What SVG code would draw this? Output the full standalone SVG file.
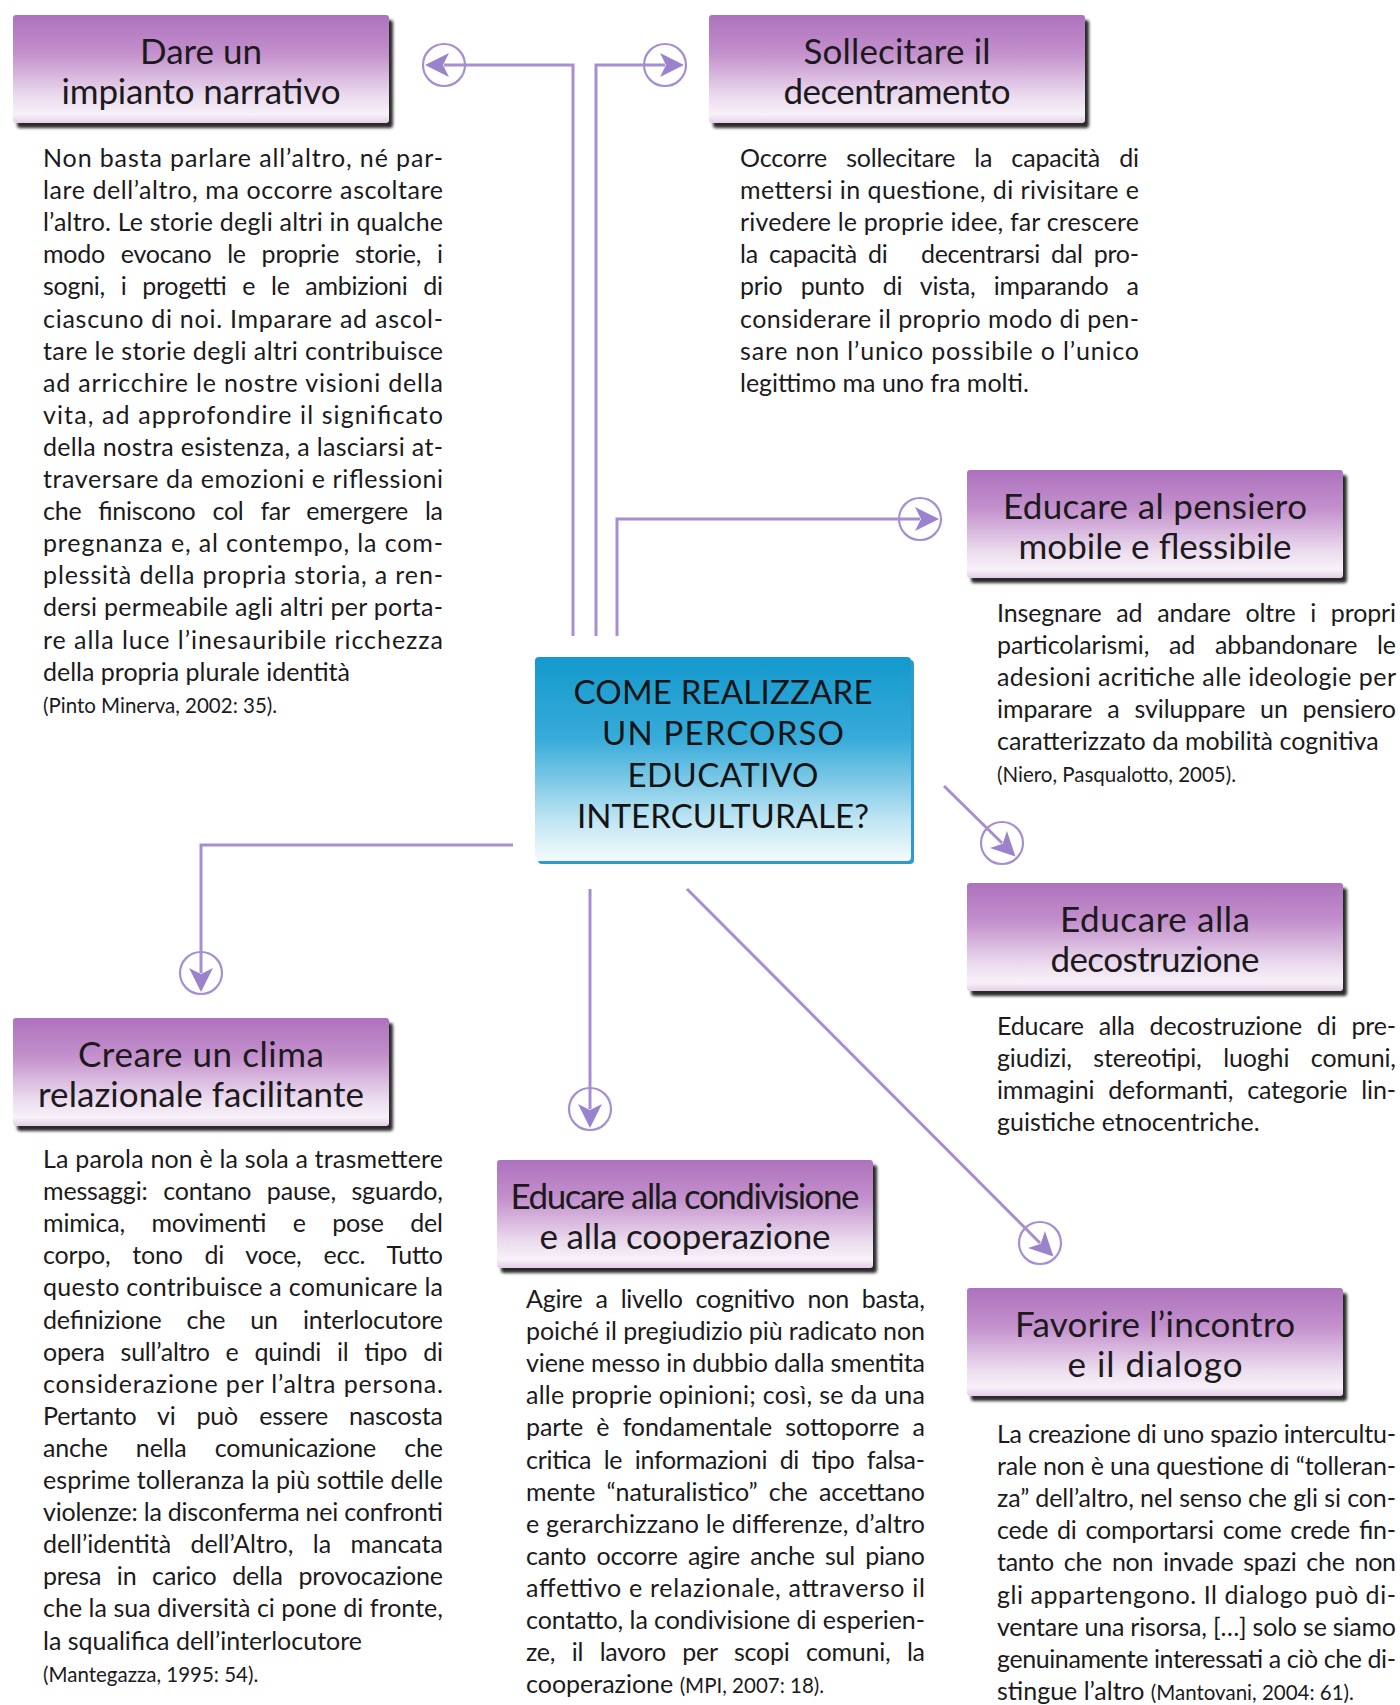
<svg xmlns="http://www.w3.org/2000/svg" width="1400" height="1705" viewBox="0 0 1400 1705">
<style>
  text { font-family: "Lato", "Liberation Sans", sans-serif; fill: #1c1a1c; }
  .hdr { font-size: 35px; text-anchor: middle; }
  .ttl { font-size: 33px; text-anchor: middle; fill: #141414; }
  .body { font-size: 25px; }
  .cite { font-size: 20.5px; }
  .wire { fill: none; stroke: #a68fd1; stroke-width: 3; }
</style>
<defs>
  <linearGradient id="cardFill" x1="0" y1="0" x2="0" y2="1">
    <stop offset="0" stop-color="#ad72bd"/>
    <stop offset="0.35" stop-color="#c38fcc"/>
    <stop offset="0.75" stop-color="#ebdbee"/>
    <stop offset="0.92" stop-color="#f8f1f9"/>
    <stop offset="1" stop-color="#e2cfe6"/>
  </linearGradient>
  <linearGradient id="coreFill" x1="0" y1="0" x2="0" y2="1">
    <stop offset="0" stop-color="#1499cd"/>
    <stop offset="0.4" stop-color="#37abd9"/>
    <stop offset="0.8" stop-color="#bfe5f3"/>
    <stop offset="1" stop-color="#f4fbfd"/>
  </linearGradient>
  <filter id="soft" x="-5%" y="-10%" width="110%" height="130%">
    <feGaussianBlur stdDeviation="1.6"/>
  </filter>
  <!-- purple title card with dark drop shadow -->
  <g id="card">
    <rect x="4" y="5" width="376" height="108" rx="3" fill="#2b2b2b" filter="url(#soft)"/>
    <rect x="0" y="0" width="376" height="108" rx="3" fill="url(#cardFill)"/>
  </g>
  <!-- circled arrowhead, pointing along +x -->
  <g id="tip">
    <circle r="21" fill="none" stroke="#a68fd1" stroke-width="2.2"/>
    <path d="M19,0 L-5,-12 L1,0 L-5,12 Z" fill="#9b82cc"/>
  </g>
</defs>

<rect width="1400" height="1705" fill="#ffffff"/>

<!-- connectors -->
<g id="connectors">
  <path class="wire" d="M573,636 V65 H444"/>
  <path class="wire" d="M596,636 V65 H665"/>
  <path class="wire" d="M617,636 V519 H920"/>
  <path class="wire" d="M513,845 H201 V973"/>
  <path class="wire" d="M590,889 V1109"/>
  <path class="wire" d="M944,786 L1002,843"/>
  <path class="wire" d="M687,889 L1040,1243"/>
  <use href="#tip" transform="translate(444,65) rotate(180)"/>
  <use href="#tip" transform="translate(665,65)"/>
  <use href="#tip" transform="translate(920,519)"/>
  <use href="#tip" transform="translate(201,973) rotate(90)"/>
  <use href="#tip" transform="translate(590,1109) rotate(90)"/>
  <use href="#tip" transform="translate(1002,843) rotate(45)"/>
  <use href="#tip" transform="translate(1040,1243) rotate(45)"/>
</g>

<!-- central question -->
<g id="core">
  <rect x="538" y="660" width="376" height="204" rx="4" fill="#2d9ccc"/>
  <rect x="535" y="657" width="376" height="204" rx="4" fill="url(#coreFill)"/>
  <text class="ttl" x="723" y="704" textLength="299" lengthAdjust="spacing">COME REALIZZARE</text>
  <text class="ttl" x="723" y="745" textLength="242" lengthAdjust="spacing">UN PERCORSO</text>
  <text class="ttl" x="723" y="787" textLength="191" lengthAdjust="spacing">EDUCATIVO</text>
  <text class="ttl" x="723" y="828" textLength="292" lengthAdjust="spacing">INTERCULTURALE?</text>
</g>

<!-- Dare un impianto narrativo -->
<g id="narrativo">
  <use href="#card" x="13" y="15"/>
  <text class="hdr" x="201" y="64" textLength="122" lengthAdjust="spacing">Dare un</text>
  <text class="hdr" x="201" y="104" textLength="279" lengthAdjust="spacing">impianto narrativo</text>
  <text class="body" x="43" y="167" textLength="400" lengthAdjust="spacing">Non basta parlare all’altro, né par-</text>
  <text class="body" x="43" y="199" textLength="400" lengthAdjust="spacing">lare dell’altro, ma occorre ascoltare</text>
  <text class="body" x="43" y="231" textLength="400" lengthAdjust="spacing">l’altro. Le storie degli altri in qualche</text>
  <text class="body" x="43" y="263" textLength="400" lengthAdjust="spacing" style="word-spacing:9.6px">modo evocano le proprie storie, i</text>
  <text class="body" x="43" y="295" textLength="400" lengthAdjust="spacing" style="word-spacing:9.6px">sogni, i progetti e le ambizioni di</text>
  <text class="body" x="43" y="328" textLength="400" lengthAdjust="spacing">ciascuno di noi. Imparare ad ascol-</text>
  <text class="body" x="43" y="360" textLength="400" lengthAdjust="spacing">tare le storie degli altri contribuisce</text>
  <text class="body" x="43" y="392" textLength="400" lengthAdjust="spacing">ad arricchire le nostre visioni della</text>
  <text class="body" x="43" y="424" textLength="400" lengthAdjust="spacing">vita, ad approfondire il significato</text>
  <text class="body" x="43" y="456" textLength="400" lengthAdjust="spacing">della nostra esistenza, a lasciarsi at-</text>
  <text class="body" x="43" y="488" textLength="400" lengthAdjust="spacing">traversare da emozioni e riflessioni</text>
  <text class="body" x="43" y="520" textLength="400" lengthAdjust="spacing" style="word-spacing:10.7px">che finiscono col far emergere la</text>
  <text class="body" x="43" y="552" textLength="400" lengthAdjust="spacing">pregnanza e, al contempo, la com-</text>
  <text class="body" x="43" y="584" textLength="400" lengthAdjust="spacing">plessità della propria storia, a ren-</text>
  <text class="body" x="43" y="616" textLength="400" lengthAdjust="spacing">dersi permeabile agli altri per porta-</text>
  <text class="body" x="43" y="649" textLength="400" lengthAdjust="spacing">re alla luce l’inesauribile ricchezza</text>
  <text class="body" x="43" y="681">della propria plurale identità</text>
  <text class="cite" x="43" y="713">(Pinto Minerva, 2002: 35).</text>
</g>

<!-- Sollecitare il decentramento -->
<g id="decentramento">
  <use href="#card" x="709" y="15"/>
  <text class="hdr" x="897" y="64" textLength="187" lengthAdjust="spacing">Sollecitare il</text>
  <text class="hdr" x="897" y="104" textLength="227" lengthAdjust="spacing">decentramento</text>
  <text class="body" x="740" y="167" textLength="399" lengthAdjust="spacing" style="word-spacing:12.8px">Occorre sollecitare la capacità di</text>
  <text class="body" x="740" y="199" textLength="399" lengthAdjust="spacing">mettersi in questione, di rivisitare e</text>
  <text class="body" x="740" y="231" textLength="399" lengthAdjust="spacing">rivedere le proprie idee, far crescere</text>
  <text class="body" x="740" y="263" textLength="399" lengthAdjust="spacing" xml:space="preserve" style="word-spacing:5px">la capacità di   decentrarsi dal pro-</text>
  <text class="body" x="740" y="295" textLength="399" lengthAdjust="spacing" style="word-spacing:11.9px">prio punto di vista, imparando a</text>
  <text class="body" x="740" y="328" textLength="399" lengthAdjust="spacing">considerare il proprio modo di pen-</text>
  <text class="body" x="740" y="360" textLength="399" lengthAdjust="spacing">sare non l’unico possibile o l’unico</text>
  <text class="body" x="740" y="392">legittimo ma uno fra molti.</text>
</g>

<!-- Educare al pensiero mobile e flessibile -->
<g id="pensiero">
  <use href="#card" x="967" y="470"/>
  <text class="hdr" x="1155" y="519" textLength="304" lengthAdjust="spacing">Educare al pensiero</text>
  <text class="hdr" x="1155" y="559" textLength="273" lengthAdjust="spacing">mobile e flessibile</text>
  <text class="body" x="997" y="622" textLength="399" lengthAdjust="spacing" style="word-spacing:8.4px">Insegnare ad andare oltre i propri</text>
  <text class="body" x="997" y="654" textLength="399" lengthAdjust="spacing" style="word-spacing:13.3px">particolarismi, ad abbandonare le</text>
  <text class="body" x="997" y="686" textLength="399" lengthAdjust="spacing">adesioni acritiche alle ideologie per</text>
  <text class="body" x="997" y="718" textLength="399" lengthAdjust="spacing" style="word-spacing:8.5px">imparare a sviluppare un pensiero</text>
  <text class="body" x="997" y="750">caratterizzato da mobilità cognitiva</text>
  <text class="cite" x="997" y="782">(Niero, Pasqualotto, 2005).</text>
</g>

<!-- Educare alla decostruzione -->
<g id="decostruzione">
  <use href="#card" x="967" y="883"/>
  <text class="hdr" x="1155" y="932" textLength="190" lengthAdjust="spacing">Educare alla</text>
  <text class="hdr" x="1155" y="972" textLength="209" lengthAdjust="spacing">decostruzione</text>
  <text class="body" x="997" y="1035" textLength="399" lengthAdjust="spacing" style="word-spacing:8.6px">Educare alla decostruzione di pre-</text>
  <text class="body" x="997" y="1067" textLength="399" lengthAdjust="spacing" style="word-spacing:15.3px">giudizi, stereotipi, luoghi comuni,</text>
  <text class="body" x="997" y="1099" textLength="399" lengthAdjust="spacing" style="word-spacing:7.7px">immagini deformanti, categorie lin-</text>
  <text class="body" x="997" y="1131">guistiche etnocentriche.</text>
</g>

<!-- Creare un clima relazionale facilitante -->
<g id="clima">
  <use href="#card" x="13" y="1018"/>
  <text class="hdr" x="201" y="1067" textLength="246" lengthAdjust="spacing">Creare un clima</text>
  <text class="hdr" x="201" y="1107" textLength="326" lengthAdjust="spacing">relazionale facilitante</text>
  <text class="body" x="43" y="1168" textLength="400" lengthAdjust="spacing">La parola non è la sola a trasmettere</text>
  <text class="body" x="43" y="1200" textLength="400" lengthAdjust="spacing" style="word-spacing:9.3px">messaggi: contano pause, sguardo,</text>
  <text class="body" x="43" y="1232" textLength="400" lengthAdjust="spacing" style="word-spacing:20.3px">mimica, movimenti e pose del</text>
  <text class="body" x="43" y="1264" textLength="400" lengthAdjust="spacing" style="word-spacing:15.7px">corpo, tono di voce, ecc. Tutto</text>
  <text class="body" x="43" y="1296" textLength="400" lengthAdjust="spacing">questo contribuisce a comunicare la</text>
  <text class="body" x="43" y="1329" textLength="400" lengthAdjust="spacing" style="word-spacing:18.8px">definizione che un interlocutore</text>
  <text class="body" x="43" y="1361" textLength="400" lengthAdjust="spacing" style="word-spacing:9.7px">opera sull’altro e quindi il tipo di</text>
  <text class="body" x="43" y="1393" textLength="400" lengthAdjust="spacing">considerazione per l’altra persona.</text>
  <text class="body" x="43" y="1425" textLength="400" lengthAdjust="spacing" style="word-spacing:14.8px">Pertanto vi può essere nascosta</text>
  <text class="body" x="43" y="1457" textLength="400" lengthAdjust="spacing" style="word-spacing:21.9px">anche nella comunicazione che</text>
  <text class="body" x="43" y="1489" textLength="400" lengthAdjust="spacing">esprime tolleranza la più sottile delle</text>
  <text class="body" x="43" y="1521" textLength="400" lengthAdjust="spacing">violenze: la disconferma nei confronti</text>
  <text class="body" x="43" y="1553" textLength="400" lengthAdjust="spacing" style="word-spacing:13px">dell’identità dell’Altro, la mancata</text>
  <text class="body" x="43" y="1585" textLength="400" lengthAdjust="spacing" style="word-spacing:9.3px">presa in carico della provocazione</text>
  <text class="body" x="43" y="1617" textLength="400" lengthAdjust="spacing">che la sua diversità ci pone di fronte,</text>
  <text class="body" x="43" y="1650">la squalifica dell’interlocutore</text>
  <text class="cite" x="43" y="1682">(Mantegazza, 1995: 54).</text>
</g>

<!-- Educare alla condivisione e alla cooperazione -->
<g id="cooperazione">
  <use href="#card" x="497" y="1160"/>
  <text class="hdr" x="685" y="1209" textLength="349" lengthAdjust="spacing">Educare alla condivisione</text>
  <text class="hdr" x="685" y="1249" textLength="291" lengthAdjust="spacing">e alla cooperazione</text>
  <text class="body" x="526" y="1308" textLength="399" lengthAdjust="spacing" style="word-spacing:6.8px">Agire a livello cognitivo non basta,</text>
  <text class="body" x="526" y="1340" textLength="399" lengthAdjust="spacing">poiché il pregiudizio più radicato non</text>
  <text class="body" x="526" y="1372" textLength="399" lengthAdjust="spacing">viene messo in dubbio dalla smentita</text>
  <text class="body" x="526" y="1404" textLength="399" lengthAdjust="spacing">alle proprie opinioni; così, se da una</text>
  <text class="body" x="526" y="1436" textLength="399" lengthAdjust="spacing" style="word-spacing:7px">parte è fondamentale sottoporre a</text>
  <text class="body" x="526" y="1469" textLength="399" lengthAdjust="spacing" style="word-spacing:6.4px">critica le informazioni di tipo falsa-</text>
  <text class="body" x="526" y="1501" textLength="399" lengthAdjust="spacing" style="word-spacing:5px">mente “naturalistico” che accettano</text>
  <text class="body" x="526" y="1533" textLength="399" lengthAdjust="spacing">e gerarchizzano le differenze, d’altro</text>
  <text class="body" x="526" y="1565" textLength="399" lengthAdjust="spacing" style="word-spacing:4px">canto occorre agire anche sul piano</text>
  <text class="body" x="526" y="1597" textLength="399" lengthAdjust="spacing">affettivo e relazionale, attraverso il</text>
  <text class="body" x="526" y="1629" textLength="399" lengthAdjust="spacing">contatto, la condivisione di esperien-</text>
  <text class="body" x="526" y="1661" textLength="399" lengthAdjust="spacing" style="word-spacing:10.3px">ze, il lavoro per scopi comuni, la</text>
  <text class="body" x="526" y="1693">cooperazione <tspan class="cite">(MPI, 2007: 18).</tspan></text>
</g>

<!-- Favorire l'incontro e il dialogo -->
<g id="dialogo">
  <use href="#card" x="967" y="1288"/>
  <text class="hdr" x="1155" y="1337" textLength="280" lengthAdjust="spacing">Favorire l’incontro</text>
  <text class="hdr" x="1155" y="1377" textLength="175" lengthAdjust="spacing">e il dialogo</text>
  <text class="body" x="997" y="1443" textLength="399" lengthAdjust="spacing">La creazione di uno spazio intercultu-</text>
  <text class="body" x="997" y="1475" textLength="399" lengthAdjust="spacing">rale non è una questione di “tolleran-</text>
  <text class="body" x="997" y="1507" textLength="399" lengthAdjust="spacing">za” dell’altro, nel senso che gli si con-</text>
  <text class="body" x="997" y="1539" textLength="399" lengthAdjust="spacing" style="word-spacing:2.8px">cede di comportarsi come crede fin-</text>
  <text class="body" x="997" y="1571" textLength="399" lengthAdjust="spacing" style="word-spacing:3.7px">tanto che non invade spazi che non</text>
  <text class="body" x="997" y="1604" textLength="399" lengthAdjust="spacing">gli appartengono. Il dialogo può di-</text>
  <text class="body" x="997" y="1636" textLength="399" lengthAdjust="spacing">ventare una risorsa, […] solo se siamo</text>
  <text class="body" x="997" y="1668" textLength="399" lengthAdjust="spacing">genuinamente interessati a ciò che di-</text>
  <text class="body" x="997" y="1700">stingue l’altro <tspan class="cite">(Mantovani, 2004: 61).</tspan></text>
</g>
</svg>
